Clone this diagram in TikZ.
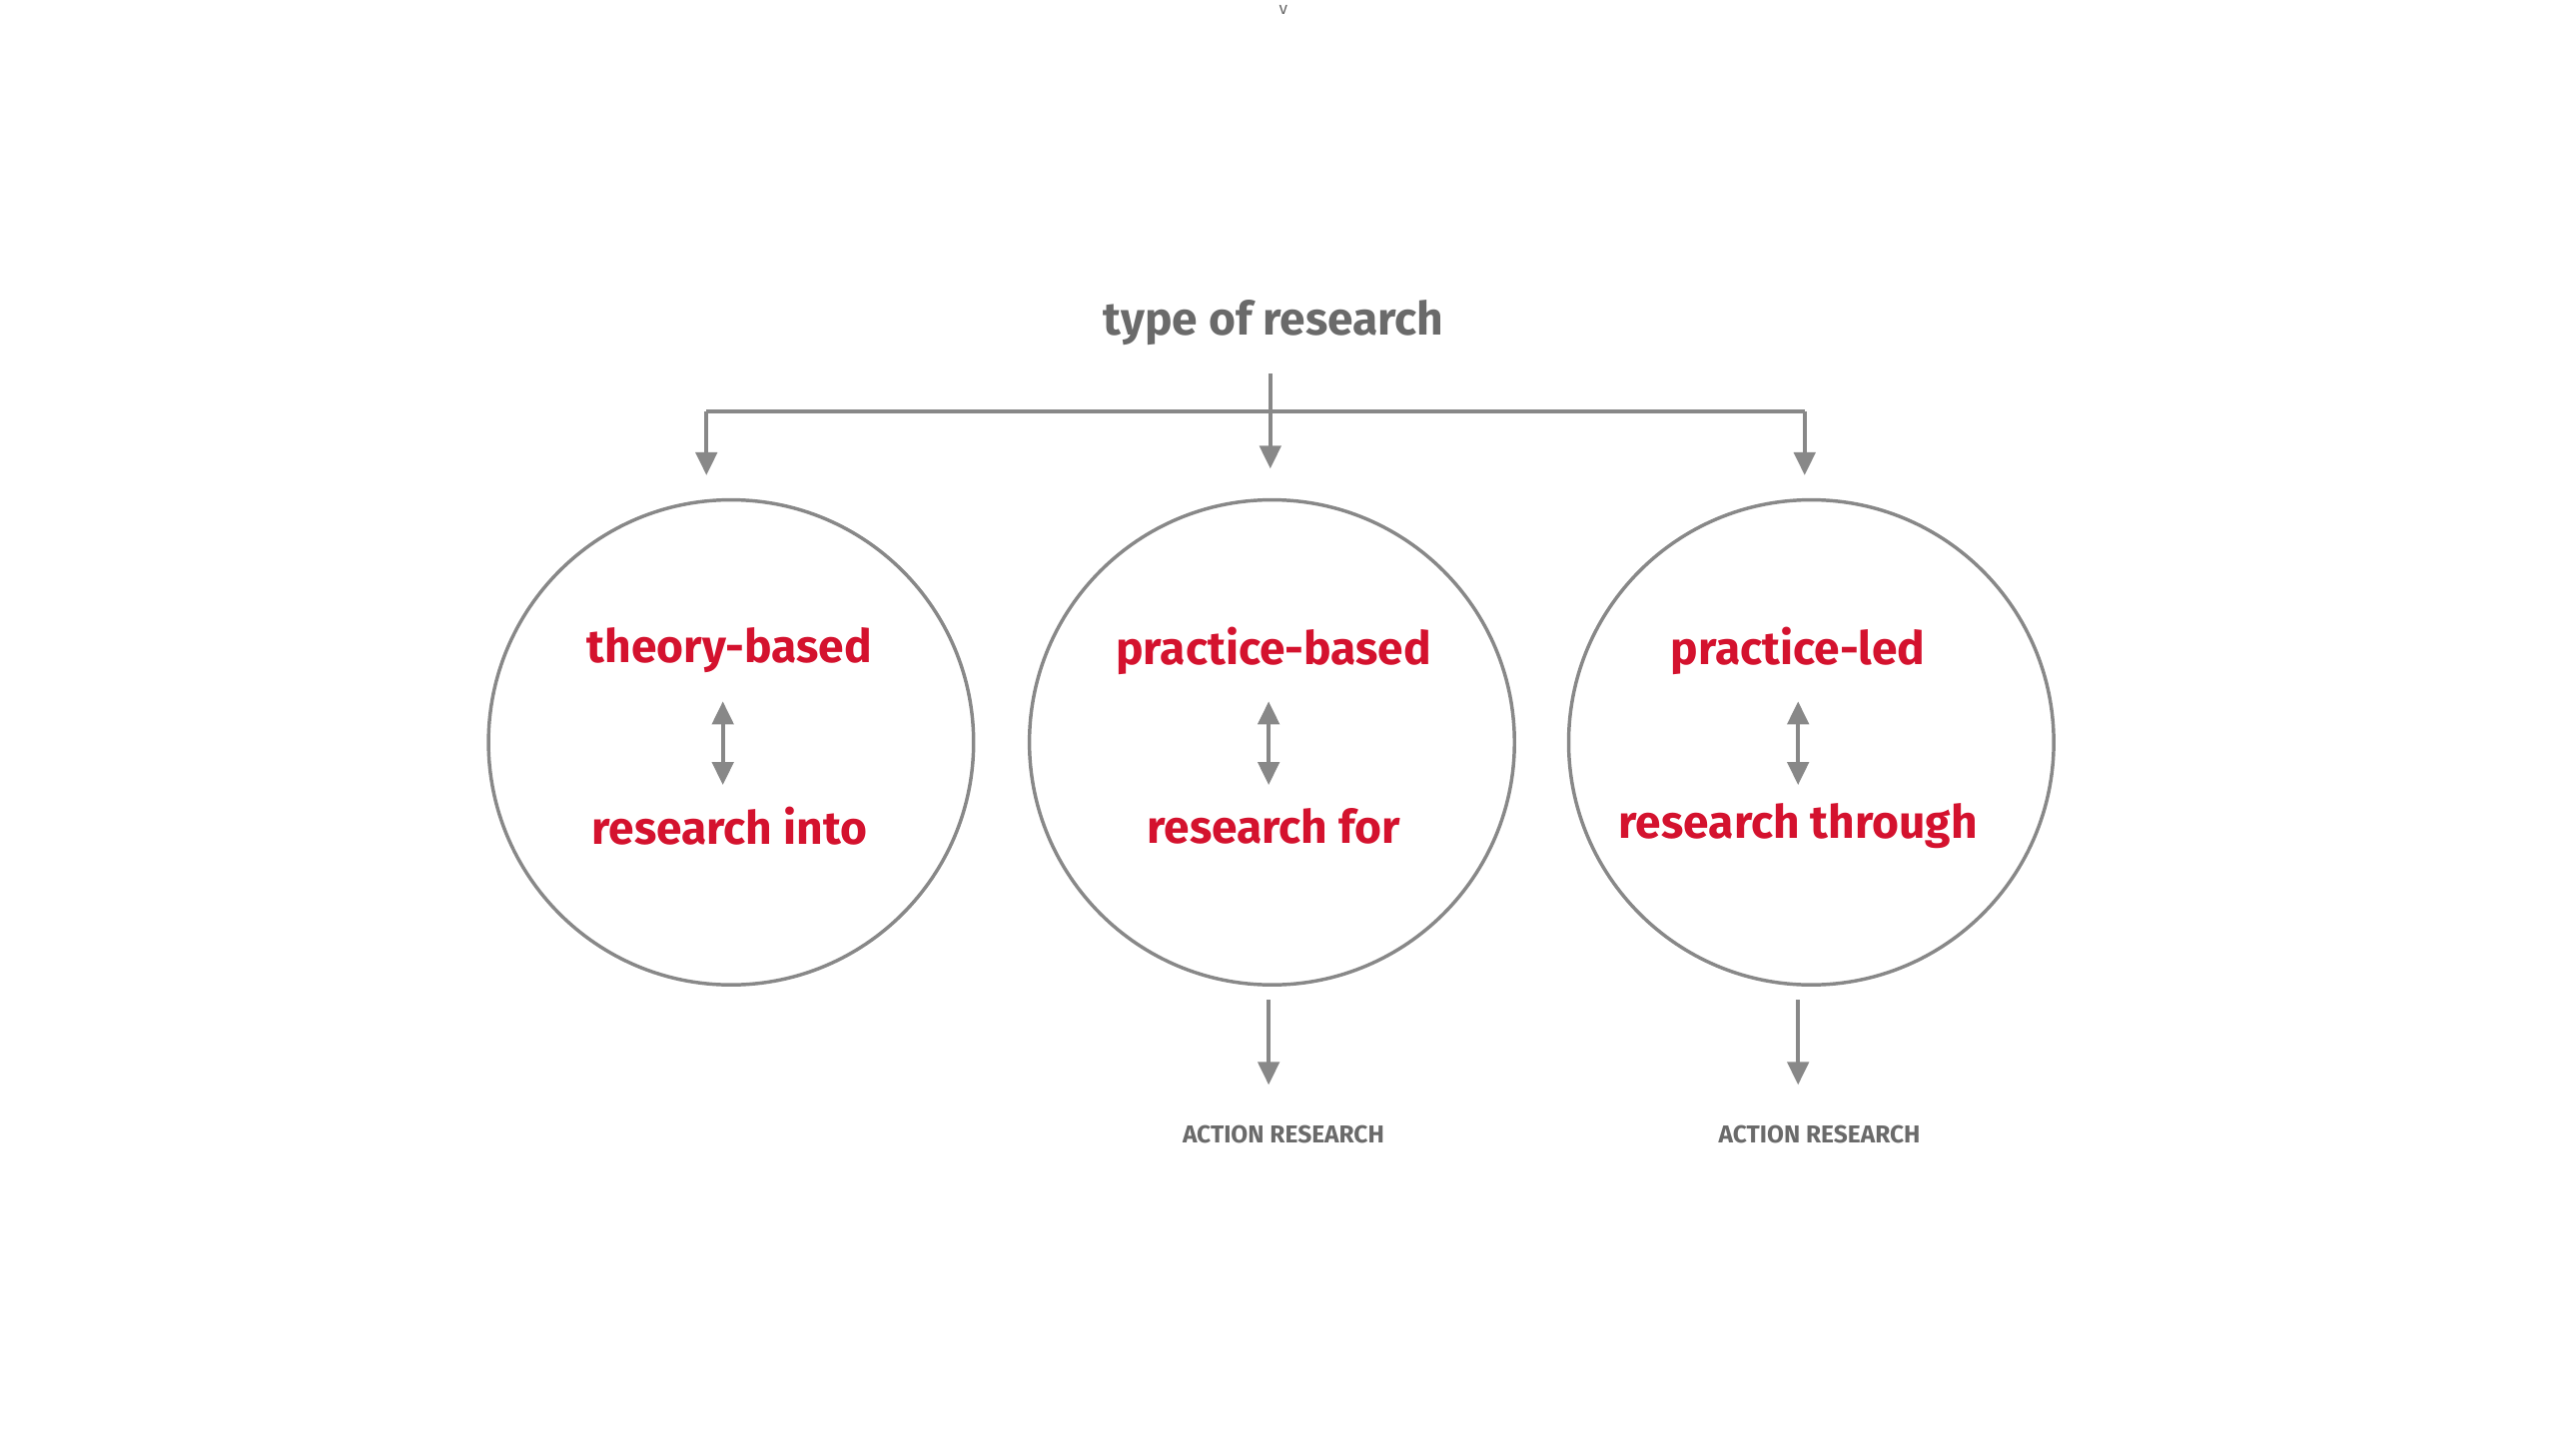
\documentclass[tikz,border=0pt]{standalone}
\usepackage{fontspec}
\setmainfont{Fira Sans}
\usetikzlibrary{arrows.meta}
\definecolor{lg}{HTML}{888888}
\definecolor{tg}{HTML}{6A6A6A}
\definecolor{rr}{HTML}{D4122E}
\tikzset{
  con/.style={draw=lg,line width=1.3pt,-{Triangle[width=0.26cm,length=0.28cm]}},
  dbl/.style={draw=lg,line width=1.3pt,{Triangle[width=0.26cm,length=0.28cm]}-{Triangle[width=0.26cm,length=0.28cm]}},
  circ/.style={circle,draw=lg,line width=1.2pt,minimum size=5.92cm,inner sep=0},
  red/.style={text=rr,font=\fontsize{16}{18}\selectfont\bfseries},
  small/.style={text=tg,font=\fontsize{8.5}{10}\selectfont\bfseries},
}
\begin{document}
\begin{tikzpicture}[x=0.02cm,y=-0.02cm]
\useasboundingbox (0,0) rectangle (1560,888);
\node[text=tg,font=\fontsize{6}{7}\selectfont] (v) at (783,6) {v};
\node[text=tg,font=\fontsize{16}{18}\selectfont\bfseries] (title) at (777,197) {type of research};
\coordinate (top) at (775,228);
\coordinate (jl) at (431,251);
\coordinate (jr) at (1101,251);
\coordinate (jm) at (775,251);
\node[circ] (c1) at (446,453) {};
\node[circ] (c2) at (776,453) {};
\node[circ] (c3) at (1105,453) {};
\coordinate (a1) at (431,290);
\coordinate (a2) at (775,286);
\coordinate (a3) at (1101,290);
\draw[draw=lg,line width=1.3pt] (a1 |- jl) -- (jr);
\draw[con] (jl) -- (a1);
\draw[con] (jr) -- (a3);
\draw[con] (top) -- (a2);
\node[red] (t1) at (445,397) {theory-based};
\node[red] (b1) at (445,504) {research into};
\node[red] (t2) at (777,397) {practice-based};
\node[red] (b2) at (777,504) {research for};
\node[red] (t3) at (1097,397) {practice-led};
\node[red] (b3) at (1097,504) {research through};
\coordinate (d1a) at (441,428); \coordinate (d1b) at (441,479);
\coordinate (d2a) at (774,428); \coordinate (d2b) at (774,479);
\coordinate (d3a) at (1097,428); \coordinate (d3b) at (1097,479);
\draw[dbl] (d1a) -- (d1b);
\draw[dbl] (d2a) -- (d2b);
\draw[dbl] (d3a) -- (d3b);
\node[small] (ar2) at (783,692) {ACTION RESEARCH};
\node[small] (ar3) at (1110,692) {ACTION RESEARCH};
\coordinate (s2) at (774,610); \coordinate (e2) at (774,662);
\coordinate (s3) at (1097,610); \coordinate (e3) at (1097,662);
\draw[con] (s2) -- (e2);
\draw[con] (s3) -- (e3);
\end{tikzpicture}
\end{document}
